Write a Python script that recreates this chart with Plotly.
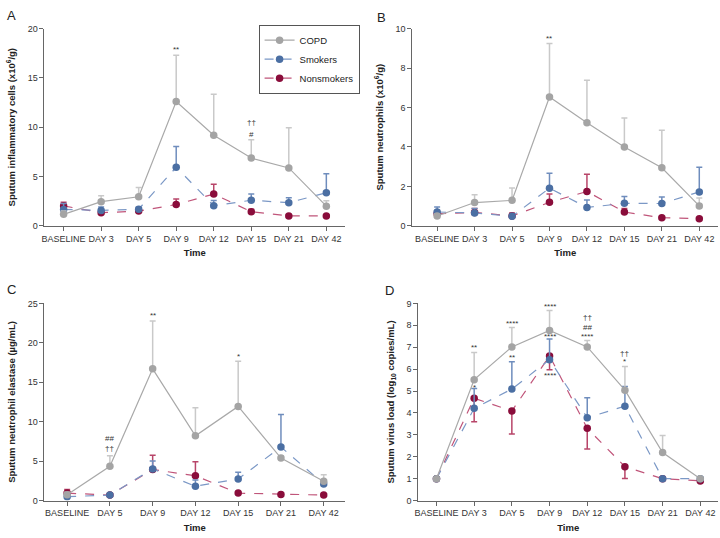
import plotly.graph_objects as go

days8 = ["BASELINE", "DAY 3", "DAY 5", "DAY 9", "DAY 12", "DAY 15", "DAY 21", "DAY 42"]
days7 = ["BASELINE", "DAY 5", "DAY 9", "DAY 12", "DAY 15", "DAY 21", "DAY 42"]

# A - sputum inflammatory cells (mean and upper error)
a_copd = [1.16, 2.45, 2.95, 12.6, 9.19, 6.87, 5.87, 1.99]
a_copd_err = [0.35, 0.6, 0.93, 4.7, 4.14, 1.85, 4.08, 0.56]
a_smk = [1.66, 1.56, 1.69, 5.94, 2.04, 2.59, 2.35, 3.35]
a_smk_err = [0.6, 0.35, 0.2, 2.09, 0.52, 0.63, 0.5, 1.92]
a_non = [2.02, 1.33, 1.49, 2.16, 3.22, 1.43, 1.0, 1.0]
a_non_err = [0.37, 0.25, 0.15, 0.56, 0.99, 0.25, 0.1, 0.1]

# B - sputum neutrophils
b_copd = [0.5, 1.18, 1.29, 6.53, 5.22, 4.0, 2.94, 1.01]
b_copd_err = [0.1, 0.4, 0.63, 2.71, 2.16, 1.46, 1.9, 0.4]
b_smk = [0.7, 0.65, 0.48, 1.91, 0.93, 1.14, 1.13, 1.72]
b_smk_err = [0.26, 0.23, 0.07, 0.76, 0.38, 0.34, 0.33, 1.25]
b_non = [0.61, 0.68, 0.5, 1.19, 1.74, 0.7, 0.41, 0.36]
b_non_err = [0.1, 0.2, 0.15, 0.42, 0.88, 0.18, 0.05, 0.05]

# C - sputum neutrophil elastase (no day 3)
c_copd = [0.75, 4.35, 16.7, 8.21, 11.94, 5.39, 2.45]
c_copd_err = [0.3, 1.33, 6.06, 3.56, 5.72, 0.3, 0.83]
c_smk = [0.5, 0.7, 4.02, 1.82, 2.74, 6.8, 2.11]
c_smk_err = [0.3, 0.1, 1.0, 0.8, 0.86, 4.1, 0.5]
c_non = [0.95, 0.7, 3.94, 3.15, 0.95, 0.79, 0.7]
c_non_err = [0.46, 0.1, 1.82, 1.78, 0.15, 0.1, 0.1]

# D - sputum virus load (nonsmokers error drawn downwards)
d_copd = [1.0, 5.52, 7.01, 7.76, 7.01, 5.04, 2.19, 1.0]
d_copd_err = [0, 1.24, 0.89, 0.91, 0.3, 1.08, 0.78, 0]
d_smk = [1.0, 4.21, 5.09, 6.43, 3.78, 4.31, 1.0, 1.0]
d_smk_err = [0, 0.91, 1.24, 0.94, 0.91, 0.9, 0, 0]
d_non = [1.0, 4.67, 4.09, 6.6, 3.3, 1.55, 1.0, 0.9]
d_non_err = [0, 1.07, 1.05, 0.63, 0.94, 0.54, 0, 0]

# significance marks: (panel, category, y, text)
marks = [
    ("A", "DAY 9", 17.9, "**"),
    ("A", "DAY 15", 10.5, "††"),
    ("A", "DAY 15", 9.3, "#"),
    ("B", "DAY 9", 9.5, "**"),
    ("C", "DAY 9", 23.4, "**"),
    ("C", "DAY 15", 18.3, "*"),
    ("C", "DAY 5", 7.9, "##"),
    ("C", "DAY 5", 6.6, "††"),
    ("D", "DAY 3", 7.0, "**"),
    ("D", "DAY 3", 5.15, "*"),
    ("D", "DAY 5", 8.07, "****"),
    ("D", "DAY 5", 6.55, "**"),
    ("D", "DAY 9", 8.85, "****"),
    ("D", "DAY 9", 7.48, "****"),
    ("D", "DAY 9", 5.7, "****"),
    ("D", "DAY 12", 8.36, "††"),
    ("D", "DAY 12", 7.92, "##"),
    ("D", "DAY 12", 7.47, "****"),
    ("D", "DAY 15", 6.7, "††"),
    ("D", "DAY 15", 6.33, "*"),
]

FONT = "Liberation Sans, Arial, sans-serif"
GREY, GREY_L, GREY_E = "#a4a4a4", "#a9a9a9", "#c9c9c9"
BLUE, BLUE_L, BLUE_E = "#4b6fa3", "#7b98c6", "#6f8dbd"
RED, RED_L, RED_E = "#8a0d3b", "#c0557a", "#b84569"

fig = go.Figure()

panels = {
    "A": dict(ax="", x=days8, copd=(a_copd, a_copd_err), smk=(a_smk, a_smk_err), non=(a_non, a_non_err), down=False),
    "B": dict(ax="2", x=days8, copd=(b_copd, b_copd_err), smk=(b_smk, b_smk_err), non=(b_non, b_non_err), down=False),
    "C": dict(ax="3", x=days7, copd=(c_copd, c_copd_err), smk=(c_smk, c_smk_err), non=(c_non, c_non_err), down=False),
    "D": dict(ax="4", x=days8, copd=(d_copd, d_copd_err), smk=(d_smk, d_smk_err), non=(d_non, d_non_err), down=True),
}


def err(vals, color, down=False):
    zeros = [0] * len(vals)
    return dict(type="data", symmetric=False,
                array=zeros if down else vals,
                arrayminus=vals if down else zeros,
                color=color, thickness=1.5, width=3)


for key, p in panels.items():
    xa, ya = "x" + p["ax"], "y" + p["ax"]
    first = key == "A"
    # draw order: nonsmokers, smokers, COPD on top
    fig.add_trace(go.Scatter(
        x=p["x"], y=p["non"][0], name="Nonsmokers", mode="lines+markers",
        line=dict(color=RED_L, width=1.2, dash="dash"),
        marker=dict(color=RED, size=7.5),
        error_y=err(p["non"][1], RED_E, p["down"]),
        xaxis=xa, yaxis=ya, showlegend=first))
    fig.add_trace(go.Scatter(
        x=p["x"], y=p["smk"][0], name="Smokers", mode="lines+markers",
        line=dict(color=BLUE_L, width=1.2, dash="dash"),
        marker=dict(color=BLUE, size=7.5),
        error_y=err(p["smk"][1], BLUE_E),
        xaxis=xa, yaxis=ya, showlegend=first))
    fig.add_trace(go.Scatter(
        x=p["x"], y=p["copd"][0], name="COPD", mode="lines+markers",
        line=dict(color=GREY_L, width=1.2),
        marker=dict(color=GREY, size=7.5),
        error_y=err(p["copd"][1], GREY_E),
        xaxis=xa, yaxis=ya, showlegend=first))

for panel, cat, yv, txt in marks:
    ax = panels[panel]["ax"]
    fig.add_annotation(x=cat, y=yv, text=txt, showarrow=False,
                       xref="x" + ax, yref="y" + ax,
                       font=dict(size=8, color="#333333"))

W, H = 720, 538
xdom = {"A": (40.7, 343), "B": (410.7, 718), "C": (40.7, 343), "D": (416.7, 718)}
ydom = {"A": (24, 225), "B": (24, 225), "C": (304, 505), "D": (304, 505)}
xrng = {"A": [-0.51, 7.5], "B": [-0.66, 7.5], "C": [-0.53, 6.5], "D": [-0.48, 7.47]}
yrng = {"A": ([0, 20], 5), "B": ([0, 10], 2), "C": ([0, 25], 5), "D": ([0, 9], 1)}
ytitles = {
    "A": "<b>Sputum inflammatory cells (x10<sup>6</sup>/g)</b>",
    "B": "<b>Sputum neutrophils (x10<sup>6</sup>/g)</b>",
    "C": "<b>Sputum neutrophil elastase (µg/mL)</b>",
    "D": "<b>Sputum virus load (log<sub>10</sub> copies/mL)</b>",
}

axis_common = dict(showline=True, linecolor="#666666", linewidth=1, ticks="outside",
                   ticklen=4, tickcolor="#666666", showgrid=False, zeroline=False,
                   tickfont=dict(size=9, color="#333333"), ticklabeloverflow="allow")

layout = {}
for key, p in panels.items():
    n = p["ax"]
    x0, x1 = xdom[key]
    y0, y1 = ydom[key]
    layout["xaxis" + n] = dict(
        axis_common, type="category", categoryorder="array", categoryarray=p["x"],
        domain=[x0 / W, x1 / W], range=xrng[key], anchor="y" + n,
        title=dict(text="<b>Time</b>", font=dict(size=9.5, color="#222222"), standoff=6))
    r, dt = yrng[key]
    layout["yaxis" + n] = dict(
        axis_common, domain=[1 - y1 / H, 1 - y0 / H], range=r, dtick=dt, anchor="x" + n,
        title=dict(text=ytitles[key], font=dict(size=9.5, color="#222222"), standoff=10))

fig.update_layout(**layout)

for letter, px, py in [("A", 1, 1), ("B", 373, 3), ("C", 1, 280), ("D", 381, 281)]:
    fig.add_annotation(text=letter, x=px / W, y=1 - py / H, xref="paper", yref="paper",
                       xanchor="left", yanchor="top", showarrow=False,
                       font=dict(size=13, color="#222222"))

fig.update_layout(
    width=W, height=H,
    margin=dict(l=0, r=0, t=0, b=0),
    paper_bgcolor="white", plot_bgcolor="white",
    font=dict(family=FONT, color="#333333"),
    legend=dict(x=256 / W, y=1 - 20 / H, xanchor="left", yanchor="top",
                traceorder="reversed", bordercolor="#555555", borderwidth=1,
                font=dict(size=9.5, color="#222222"), tracegroupgap=0,
                itemwidth=30, bgcolor="white"),
    showlegend=True,
)

# drop the default 8px page margin so the figure sits at the window's corner
fig.write_html("out.html", config={"displayModeBar": False},
               post_script="document.body.style.margin='0';")
